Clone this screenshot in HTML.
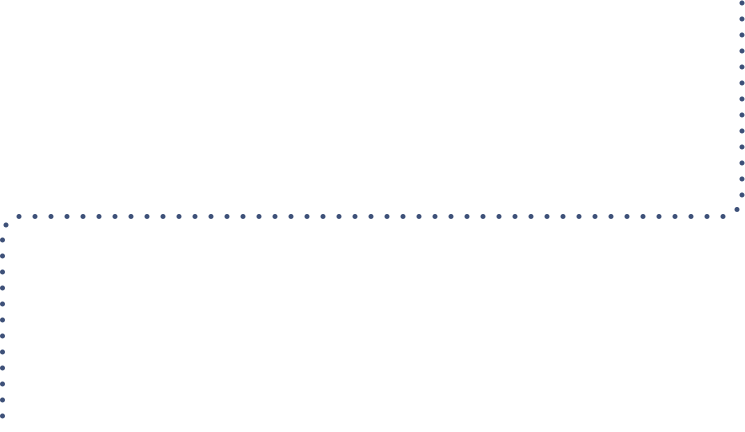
<!DOCTYPE html>
<html><head><style>html,body{margin:0;padding:0;background:#fff;}svg{display:block}</style></head>
<body>
<svg width="745" height="432" viewBox="0 0 745 432" xmlns="http://www.w3.org/2000/svg">
<g stroke="#3d5078" stroke-width="5" stroke-linecap="round" stroke-dasharray="0 16" fill="none">
<path d="M19,216.5 H723.1"/>
<path d="M742,3 V195.1"/>
<path d="M2.5,240 V416.1"/>
</g>
<g fill="#3d5078">
<circle cx="6" cy="225" r="2.5"/>
<circle cx="737" cy="209.5" r="2.5"/>
</g>
</svg>
</body></html>
